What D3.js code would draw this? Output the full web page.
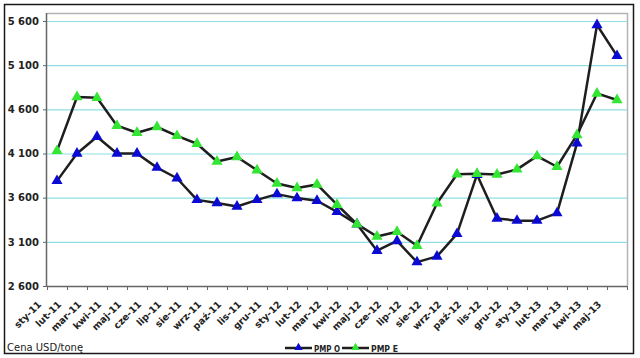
<!DOCTYPE html>
<html><head><meta charset="utf-8">
<script src="https://cdn.jsdelivr.net/npm/d3@7/dist/d3.min.js"></script>
<style>html,body{margin:0;padding:0;background:#fff;}svg{display:block;}</style>
</head><body><svg id="c" width="640" height="358"></svg>
<script>
const categories = ["sty-11","lut-11","mar-11","kwi-11","maj-11","cze-11","lip-11","sie-11","wrz-11","paź-11","lis-11","gru-11","sty-12","lut-12","mar-12","kwi-12","maj-12","cze-12","lip-12","sie-12","wrz-12","paź-12","lis-12","gru-12","sty-13","lut-13","mar-13","kwi-13","maj-13"];
const pmpO = [3790,4100,4290,4100,4100,3940,3820,3575,3540,3500,3575,3640,3595,3565,3440,3300,3000,3110,2870,2935,3190,3860,3365,3340,3340,3425,4215,5555,5205];
const pmpE = [4130,4740,4730,4415,4335,4400,4300,4210,4010,4060,3910,3760,3710,3750,3520,3300,3160,3215,3055,3536,3865,3870,3862,3920,4070,3950,4310,4780,4705];
const yTicks = [2600,3100,3600,4100,4600,5100,5600];
const yTickLabels = ["2 600","3 100","3 600","4 100","4 600","5 100","5 600"];
const seriesNames = ["PMP O","PMP E"];
const seriesColors = ["#0a0ad2","#33e633"];

const svg = d3.select("#c");
const L = 47, R = 627, T = 13, B = 286;
const x = d3.scaleBand().domain(categories).range([L, R]).padding(0);
const xi = d3.scaleLinear().domain([0, categories.length]).range([L, R]);
const y = d3.scaleLinear().domain([2600, 5600]).range([B, 21]);
const font = "'DejaVu Sans', Verdana, sans-serif";

// outer border
svg.append("rect").attr("x",4.5).attr("y",4.5).attr("width",629).attr("height",349)
  .attr("fill","#fff").attr("stroke","#1a1a1a").attr("stroke-width",1.5);

// plot frame (top & right grey)
svg.append("path").attr("d",`M${L},${T+0.5}H${R+0.5}V${B}`).attr("fill","none").attr("stroke","#b4b4b4").attr("stroke-width",1.5);

// gridlines
svg.append("g").selectAll("line").data(yTicks.filter(v=>v>2600)).join("line")
  .attr("x1",L).attr("x2",R).attr("y1",d=>y(d)+0.5).attr("y2",d=>y(d)+0.5)
  .attr("stroke","#8ee0e6").attr("stroke-width",1.2);

// y axis
const ya = svg.append("g").attr("transform",`translate(${L},0)`)
  .call(d3.axisLeft(y).tickValues(yTicks).tickSize(4).tickPadding(4).tickFormat((d,i)=>yTickLabels[i]));
ya.select(".domain").attr("d",`M-0.5,${T}V${B}`).attr("stroke","#666").attr("stroke-width",1.5);
ya.selectAll(".tick line").attr("stroke","#666");
ya.selectAll("text").attr("font-family",font).attr("font-weight","bold").attr("font-size","10px").attr("fill","#222");

// x axis
const xa = svg.append("g").attr("transform",`translate(0,${B})`)
  .call(d3.axisBottom(xi).tickValues(d3.range(categories.length+1)).tickSize(4).tickFormat(""));
xa.select(".domain").attr("d",`M${L},0.5H${R}`).attr("stroke","#666").attr("stroke-width",1.5);
xa.selectAll(".tick line").attr("stroke","#666");

// x labels
svg.append("g").selectAll("text").data(categories).join("text")
  .attr("transform",d=>`translate(${x(d)+x.bandwidth()/2-15},${B+19}) rotate(-45)`)
  .attr("text-anchor","end").attr("font-family",font).attr("font-weight","bold")
  .attr("font-size","9.5px").attr("fill","#222").text(d=>d);

// series
const tri = d3.symbol().type(d3.symbolTriangle).size(54);
[pmpO, pmpE].forEach((vals, s) => {
  const line = d3.line().x((d,i)=>x(categories[i])+x.bandwidth()/2).y(d=>y(d));
  svg.append("path").datum(vals).attr("d",line).attr("fill","none")
    .attr("stroke","#1e1e1e").attr("stroke-width",2.5).attr("stroke-linejoin","round");
});
[pmpO, pmpE].forEach((vals, s) => {
  svg.append("g").selectAll("path").data(vals).join("path")
    .attr("transform",(d,i)=>`translate(${x(categories[i])+x.bandwidth()/2},${y(d)})`)
    .attr("d",tri).attr("fill",seriesColors[s]);
});

// legend
const lg = svg.append("g");
const legX = [285, 342];
seriesNames.forEach((n, s) => {
  const g = lg.append("g").attr("transform",`translate(${legX[s]},348)`);
  g.append("line").attr("x1",0).attr("x2",27).attr("y1",0).attr("y2",0).attr("stroke","#1e1e1e").attr("stroke-width",2.5);
  g.append("path").attr("transform","translate(13.5,-0.5)").attr("d",d3.symbol().type(d3.symbolTriangle).size(30)).attr("fill",seriesColors[s]);
  g.append("text").attr("x",29).attr("y",4).attr("font-family",font).attr("font-weight","bold")
    .attr("font-size","9px").attr("fill","#222")
    .attr("textLength", s === 0 ? 26 : 27).attr("lengthAdjust","spacingAndGlyphs").text(n);
});

// unit caption
svg.append("text").attr("x",7).attr("y",351).attr("font-family",font).attr("font-size","10px").attr("fill","#222").text("Cena USD/tonę");
</script></body></html>
